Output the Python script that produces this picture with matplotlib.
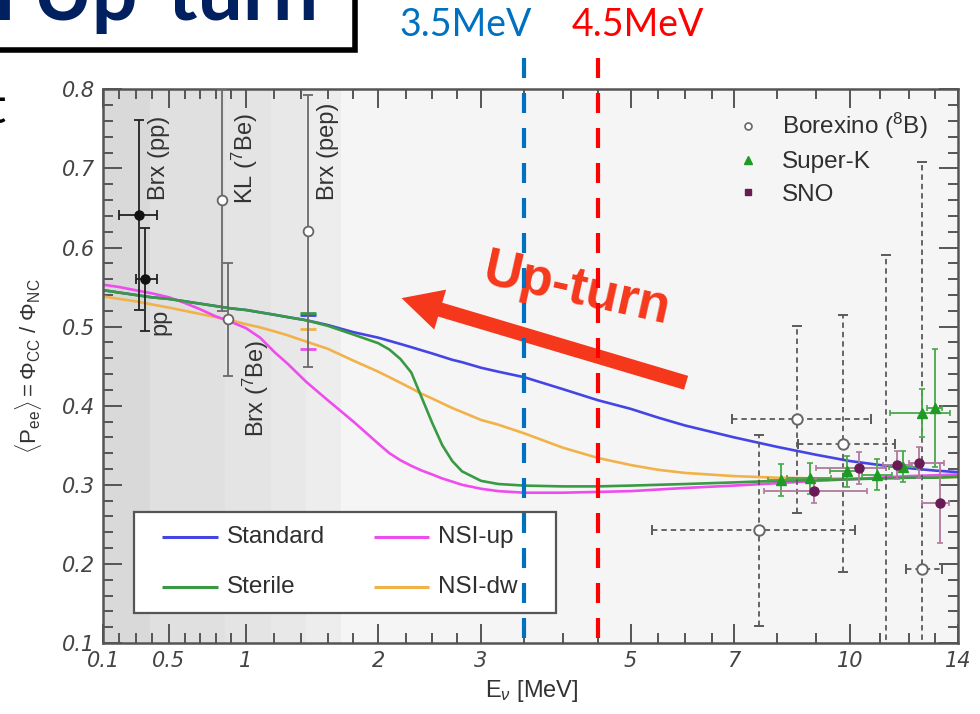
import numpy as np
import matplotlib
matplotlib.use("Agg")
import matplotlib.pyplot as plt
import matplotlib.transforms as mtransforms
from matplotlib.lines import Line2D
from matplotlib.patches import Rectangle

plt.rcParams['font.family'] = ['Liberation Sans', 'DejaVu Sans']
plt.rcParams['mathtext.fontset'] = 'custom'
plt.rcParams['mathtext.rm'] = 'Liberation Sans'
plt.rcParams['mathtext.it'] = 'Liberation Sans:italic'
plt.rcParams['mathtext.bf'] = 'Liberation Sans:bold'

# ---------------------------------------------------------------- data
# model curves: survival probability vs neutrino energy (MeV)
E_CURVE = [0.1, 0.2, 0.3, 0.4, 0.5, 0.6, 0.7, 0.8, 0.9, 1.0, 1.1, 1.2, 1.3, 1.44,
           1.6, 1.8, 2.0, 2.1, 2.2, 2.3, 2.4, 2.5, 2.6, 2.7, 2.8, 3.0, 3.2, 3.5,
           4.0, 4.5, 5.0, 5.5, 6.0, 7.0, 8.0, 9.0, 10.0, 11.0, 12.0, 13.0, 14.0]
P_STANDARD = [0.546, 0.543, 0.540, 0.537, 0.535, 0.532, 0.529, 0.526, 0.523, 0.521,
              0.518, 0.515, 0.512, 0.508, 0.502, 0.493, 0.486, 0.482, 0.478, 0.474,
              0.470, 0.466, 0.462, 0.458, 0.455, 0.448, 0.443, 0.436, 0.421, 0.407,
              0.396, 0.385, 0.375, 0.360, 0.348, 0.338, 0.330, 0.325, 0.321, 0.318, 0.316]
P_STERILE = [0.546, 0.543, 0.540, 0.537, 0.535, 0.532, 0.529, 0.526, 0.523, 0.521,
             0.518, 0.515, 0.512, 0.508, 0.501, 0.490, 0.479, 0.471, 0.459, 0.442,
             0.410, 0.378, 0.350, 0.330, 0.317, 0.305, 0.301, 0.299, 0.298, 0.298,
             0.299, 0.300, 0.301, 0.303, 0.305, 0.306, 0.307, 0.308, 0.309, 0.309, 0.310]
P_NSI_UP = [0.553, 0.550, 0.546, 0.542, 0.537, 0.530, 0.522, 0.513, 0.506, 0.498,
            0.486, 0.468, 0.453, 0.430, 0.407, 0.380, 0.352, 0.340, 0.331, 0.324,
            0.318, 0.313, 0.308, 0.304, 0.300, 0.295, 0.292, 0.290, 0.290, 0.291,
            0.292, 0.294, 0.296, 0.299, 0.302, 0.305, 0.307, 0.309, 0.311, 0.312, 0.313]
P_NSI_DW = [0.538, 0.535, 0.532, 0.528, 0.524, 0.520, 0.516, 0.512, 0.508, 0.503,
            0.499, 0.494, 0.489, 0.481, 0.472, 0.457, 0.443, 0.436, 0.429, 0.422,
            0.415, 0.409, 0.403, 0.397, 0.392, 0.382, 0.376, 0.365, 0.347, 0.334,
            0.325, 0.319, 0.315, 0.311, 0.309, 0.308, 0.308, 0.308, 0.309, 0.309, 0.310]
MODEL_NAMES = ['Standard', 'Sterile', 'NSI-up', 'NSI-dw']

# model averages over the pep line
E_PEP = 1.45
PEP_MODEL = {'Standard': 0.515, 'Sterile': 0.517, 'NSI-up': 0.472, 'NSI-dw': 0.497}

# low-energy measurements (filled: pp)
PP_E = [0.32, 0.355]
PP_P = [0.641, 0.560]
PP_YERR = [0.120, 0.065]
PP_XLO = [0.12, 0.055]
PP_XHI = [0.11, 0.075]

# low-energy measurements (open: KL 7Be, Brx 7Be, Brx pep)
LE_E = [0.84, 0.88, 1.45]
LE_P = [0.660, 0.509, 0.621]
LE_YERR = [0.140, 0.071, 0.172]

# Borexino 8B
BX_E = [7.57, 8.5, 9.8, 11.2, 12.5]
BX_P = [0.243, 0.383, 0.352, 0.060, 0.194]
BX_YLO = [0.121, 0.119, 0.162, 0.100, 0.514]
BX_YHI = [0.120, 0.118, 0.163, 0.530, 0.514]
BX_XLO = [2.18, 1.55, 1.26, 0.0, 0.60]
BX_XHI = [2.58, 2.20, 1.70, 0.0, 0.80]

# Super-Kamiokande
SK_E = [8.1, 8.85, 9.9, 10.9, 11.8, 12.5, 13.0]
SK_P = [0.306, 0.308, 0.317, 0.313, 0.323, 0.391, 0.397]
SK_YERR = [0.020, 0.020, 0.020, 0.020, 0.020, 0.030, 0.075]
SK_XERR = [0.30, 0.60, 0.50, 0.50, 0.50, 1.15, 0.30]

# SNO
SNO_E = [8.95, 10.3, 11.6, 12.4, 13.2]
SNO_P = [0.2925, 0.321, 0.325, 0.328, 0.277]
SNO_YERR = [0.015, 0.020, 0.018, 0.020, 0.050]
SNO_XLO = [1.25, 1.30, 0.50, 0.40, 0.70]
SNO_XHI = [1.60, 0.90, 0.50, 1.00, 0.40]

X_MAJOR = [0.1, 0.5, 1, 2, 3, 5, 7, 10, 14]
X_MAJOR_LABELS = ['0.1', '0.5', '1', '2', '3', '5', '7', '10', '14']
X_MINOR = [0.2, 0.3, 0.4, 0.6, 0.7, 0.8, 0.9, 1.2, 1.4, 1.6, 1.8, 2.25, 2.5, 2.75,
           3.5, 4, 4.5, 5.5, 6, 6.5, 8, 9, 11, 12, 13]
Y_MAJOR = [0.1, 0.2, 0.3, 0.4, 0.5, 0.6, 0.7, 0.8]

E_LOW_CUT = 3.5
E_HIGH_CUT = 4.5

# ---------------------------------------------------------------- energy scale
# hand-spaced energy axis: energy -> position along the axis (pixel spacing)
SCALE_E = [0.1, 0.2, 0.3, 0.4, 0.5, 0.6, 0.7, 0.8, 0.9, 1.0, 1.2, 1.4, 1.6, 1.8, 2.0,
           2.25, 2.5, 2.75, 3.0, 3.5, 4.0, 4.5, 5.0, 5.5, 6.0, 6.5, 7.0, 8.0, 9.0,
           10.0, 11.0, 12.0, 13.0, 14.0]
SCALE_PX = [103.3, 119.3, 135.5, 152.0, 169.0, 184.5, 200.0, 215.6, 231.0, 246.0,
            274.3, 301.0, 327.7, 353.3, 378.3, 406.0, 432.3, 457.3, 481.0, 524.3,
            562.7, 597.7, 630.7, 658.0, 685.0, 712.0, 734.0, 777.0, 816.0, 850.0,
            880.0, 909.0, 935.0, 958.0]
SCALE_U = (np.array(SCALE_PX) - SCALE_PX[0]) / (SCALE_PX[-1] - SCALE_PX[0])


def _interp_ext(x, xp, fp):
    x = np.asarray(x, dtype=float)
    xp = np.asarray(xp, dtype=float)
    fp = np.asarray(fp, dtype=float)
    y = np.interp(x, xp, fp)
    lo_slope = (fp[1] - fp[0]) / (xp[1] - xp[0])
    hi_slope = (fp[-1] - fp[-2]) / (xp[-1] - xp[-2])
    y = np.where(x < xp[0], fp[0] + (x - xp[0]) * lo_slope, y)
    y = np.where(x > xp[-1], fp[-1] + (x - xp[-1]) * hi_slope, y)
    return y


def e_to_u(e):
    return _interp_ext(e, SCALE_E, SCALE_U)


def u_to_e(u):
    return _interp_ext(u, SCALE_U, SCALE_E)


# ---------------------------------------------------------------- figure
W, H = 980, 714
fig = plt.figure(figsize=(W / 100, H / 100), dpi=100)
AX_L, AX_R, AX_T, AX_B = 103.3, 958.0, 89.3, 643.0
ax = fig.add_axes([AX_L / W, (H - AX_B) / H, (AX_R - AX_L) / W, (AX_B - AX_T) / H])
ax.set_xscale('function', functions=(e_to_u, u_to_e))
ax.set_xlim(0.1, 14)
ax.set_ylim(0.1, 0.8)
ax.set_facecolor('#f5f5f5')

# shaded low-energy regions (pp, 7Be, pep)
BANDS = [(0.1, 0.39, '#d9d9d9'), (0.39, 0.86, '#e0e0e0'), (0.86, 1.18, '#e4e4e4'),
         (1.18, 1.44, '#e8e8e8'), (1.44, 1.70, '#ededed')]
for e0, e1, c in BANDS:
    ax.axvspan(e0, e1, color=c, lw=0, zorder=0)

COLORS = {'Standard': '#4545e6', 'Sterile': '#3a9a44', 'NSI-up': '#ee4cee', 'NSI-dw': '#f2b24a'}
CURVES = {'Standard': P_STANDARD, 'Sterile': P_STERILE, 'NSI-up': P_NSI_UP, 'NSI-dw': P_NSI_DW}
for name in ['Standard', 'NSI-dw', 'NSI-up', 'Sterile']:
    ax.plot(E_CURVE, CURVES[name], color=COLORS[name], lw=1.9, zorder=2)
for name in ['Standard', 'NSI-dw', 'NSI-up', 'Sterile']:
    ax.plot([E_PEP], [PEP_MODEL[name]], marker='_', ms=11, mew=2.0,
            color=COLORS[name], ls='none', zorder=3)

# low-energy data
ax.errorbar(LE_E, LE_P, yerr=LE_YERR, fmt='o', ms=7, mfc='white', mec='#666666',
            mew=1.3, ecolor='#6a6a6a', elinewidth=1.3, capsize=3.5, capthick=1.3, zorder=4)
ax.errorbar(PP_E, PP_P, yerr=PP_YERR, xerr=[PP_XLO, PP_XHI], fmt='o', ms=6.5,
            color='#111111', ecolor='#222222', elinewidth=1.3, capsize=3.5,
            capthick=1.3, zorder=4)

# 8B data
bx = ax.errorbar(BX_E, BX_P, yerr=[BX_YLO, BX_YHI], xerr=[BX_XLO, BX_XHI], fmt='o',
                 ms=7.5, mfc='white', mec='#666666', mew=1.4, ecolor='#5a5a5a',
                 elinewidth=1.3, capsize=3.5, capthick=1.3, zorder=4)
for lc in bx[2]:
    lc.set_linestyle((0, (3.0, 2.2)))
ax.errorbar(SK_E, SK_P, yerr=SK_YERR, xerr=SK_XERR, fmt='^', ms=6.5, color='#1f9a25',
            ecolor='#46a84a', elinewidth=1.3, capsize=2.5, capthick=1.2, zorder=5)
ax.errorbar(SNO_E, SNO_P, yerr=SNO_YERR, xerr=[SNO_XLO, SNO_XHI], fmt='o', ms=6.5,
            color='#6a1b55', ecolor='#b07a9e', elinewidth=1.3, capsize=2.5,
            capthick=1.2, zorder=5)

# labels of the low-energy measurements
LABEL_KW = dict(rotation=90, ha='center', va='bottom', fontsize=17, color='#333333', zorder=6)
ax.text(0.44, 0.660, 'Brx (pp)', **LABEL_KW)
ax.text(0.45, 0.490, 'pp', **LABEL_KW)
ax.text(0.995, 0.655, 'KL ($^{7}$Be)', **LABEL_KW)
ax.text(1.07, 0.360, 'Brx ($^{7}$Be)', **LABEL_KW)
ax.text(1.60, 0.660, 'Brx (pep)', **LABEL_KW)

# axes styling
ax.set_xticks(X_MAJOR, labels=X_MAJOR_LABELS, fontstyle='italic', fontsize=15,
              family='DejaVu Sans')
ax.set_xticks(X_MINOR, minor=True)
ax.set_yticks(Y_MAJOR, labels=['%.1f' % v for v in Y_MAJOR], fontstyle='italic',
              fontsize=15, family='DejaVu Sans')
ax.set_yticks(np.round(np.arange(0.1, 0.8001, 0.02), 2), minor=True)
ax.tick_params(which='both', direction='in', top=True, right=True, color='#555555',
               width=1.4, labelcolor='#444444')
ax.tick_params(which='major', length=14, pad=6)
ax.tick_params(which='minor', length=7)
for sp in ax.spines.values():
    sp.set_color('#555555')
    sp.set_linewidth(1.8)

fig.text(28 / W, 1 - 366 / H,
         r'$\langle\mathrm{P}_{\mathrm{ee}}\rangle = \Phi_{\mathrm{CC}}\ /\ \Phi_{\mathrm{NC}}$',
         rotation=90, ha='center', va='center', fontsize=16, color='#333333')
fig.text(532 / W, 1 - 691 / H, r'E$_{\nu}$ [MeV]', ha='center', va='center',
         fontsize=17, color='#333333')

# experiment legend (upper right)
h_bx = Line2D([], [], ls='none', marker='o', ms=5, mfc='white', mec='#666666', mew=1.2)
h_sk = Line2D([], [], ls='none', marker='^', ms=6, color='#1f9a25')
h_sno = Line2D([], [], ls='none', marker='s', ms=5, color='#6a1b55')
leg = ax.legend([h_bx, h_sk, h_sno], ['Borexino ($^{8}$B)', 'Super-K', 'SNO'],
                loc='upper left', bbox_to_anchor=((736 - AX_L) / (AX_R - AX_L),
                                                  (AX_B - 111) / (AX_B - AX_T)),
                frameon=False, fontsize=17.5, handlelength=1.0, handletextpad=0.9,
                labelspacing=0.42, borderpad=0, borderaxespad=0, labelcolor='#2f2f2f')


# model legend (lower left), boxed
def ax_frac(px, py):
    return (px - AX_L) / (AX_R - AX_L), (AX_B - py) / (AX_B - AX_T)


x0, y0 = ax_frac(134, 613)
x1, y1 = ax_frac(556, 512)
ax.add_patch(Rectangle((x0, y0), x1 - x0, y1 - y0, transform=ax.transAxes,
                       facecolor='white', edgecolor='#555555', lw=1.6, zorder=6))
LEG_SLOTS = {'Standard': (162, 218, 536.7), 'Sterile': (162, 218, 586.7),
             'NSI-up': (374, 429, 536.7), 'NSI-dw': (374, 429, 586.7)}
for name in MODEL_NAMES:
    a, b, yy = LEG_SLOTS[name]
    (ua, vy), (ub, _) = ax_frac(a, yy), ax_frac(b, yy)
    ax.plot([ua, ub], [vy, vy], transform=ax.transAxes, color=COLORS[name], lw=2.2,
            zorder=7, solid_capstyle='butt')
    ax.text(ub + 9 / (AX_R - AX_L), vy, name, transform=ax.transAxes, ha='left',
            va='center', fontsize=17.5, color='#2f2f2f', zorder=7)

# up-turn annotation
ax.annotate('', xy=(2.21, 0.536), xytext=(6.02, 0.429),
            arrowprops=dict(arrowstyle='simple,head_length=2.9,head_width=3.0,tail_width=1.04',
                            mutation_scale=10, color='#f5381c', lw=0, shrinkA=0, shrinkB=0),
            zorder=8)
ax.text(4.2, 0.546, 'Up-turn', rotation=-12.5, rotation_mode='anchor', ha='center',
        va='center', fontsize=38, fontweight='bold', color='#f5381c', zorder=8)

# energy cuts
trans = mtransforms.blended_transform_factory(ax.transData, ax.transAxes)
for e_cut, c in [(E_LOW_CUT, '#0070c0'), (E_HIGH_CUT, '#ff0000')]:
    ax.plot([e_cut, e_cut], [1.057, -0.009], transform=trans, clip_on=False, color=c,
            lw=3.0, dashes=(4.8, 3.6), zorder=10, solid_capstyle='butt',
            dash_capstyle='butt')
fig.text(466 / W, 1 - 36 / H, '%gMeV' % E_LOW_CUT, ha='center', va='baseline',
         fontsize=27, family='Lato', color='#0070c0')
fig.text(638 / W, 1 - 36 / H, '%gMeV' % E_HIGH_CUT, ha='center', va='baseline',
         fontsize=27, family='Lato', color='#ff0000')

# slide heading box and stray text
fig.add_artist(Rectangle((-0.02, 1 - 50 / H), (355 + 20) / W, 0.2, transform=fig.transFigure,
                         facecolor='white', edgecolor='black', lw=4, clip_on=False))
fig.text(-6 / W, 1 - 20 / H, 'r', ha='left', va='baseline', fontsize=58,
         fontweight='bold', family='Lato', color='#002060')
fig.text(32 / W, 1 - 20 / H, 'Up-turn', ha='left', va='baseline', fontsize=58,
         fontweight='bold', family='Lato', color='#002060')
fig.text(-12 / W, 1 - 123 / H, 't', ha='left', va='baseline', fontsize=36,
         family='Lato', color='black')

fig.savefig('out.png', dpi=100)
